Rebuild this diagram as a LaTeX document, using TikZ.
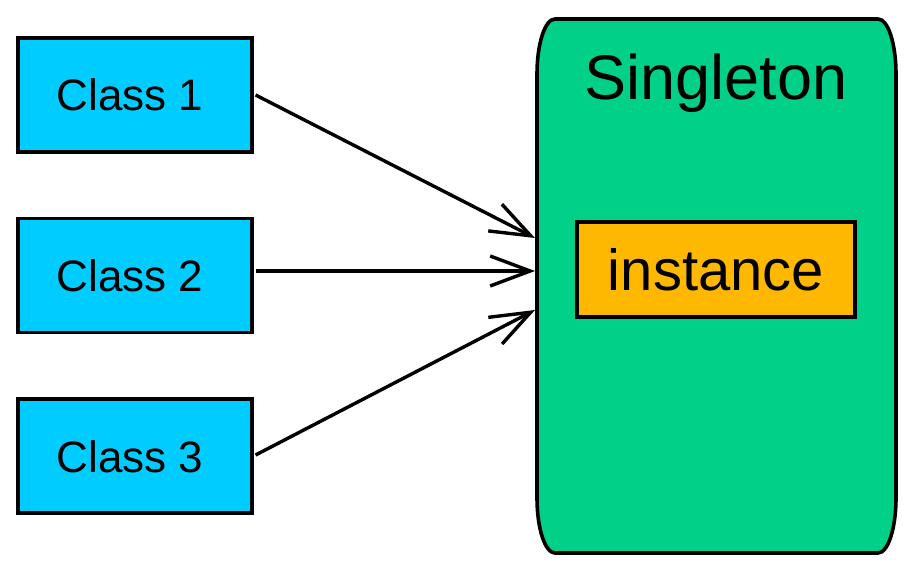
\documentclass[tikz,border=0pt]{standalone}
\usepackage{fontspec}
\setmainfont{Liberation Sans}
\usetikzlibrary{arrows.meta}
\definecolor{classblue}{RGB}{0,204,255}
\definecolor{singgreen}{RGB}{0,208,136}
\definecolor{instorange}{RGB}{255,184,0}
\tikzset{
  classbox/.style={draw=black, line width=3.6pt, fill=classblue, minimum width=234pt, minimum height=114pt, inner sep=0pt, font=\fontsize{44}{50}\selectfont},
  instbox/.style={draw=black, line width=3.6pt, fill=instorange, minimum width=278pt, minimum height=95pt, inner sep=0pt, font=\fontsize{58}{66}\selectfont},
  conn/.style={line width=3.4pt, -{Straight Barb[length=40pt,width=30pt,line width=3.4pt]}},
}
\begin{document}
\begin{tikzpicture}[x=1pt,y=-1pt]
\useasboundingbox (0,0) rectangle (916,567);
% singleton body
\filldraw[fill=singgreen, draw=black, line width=3.6pt]
  (537,74) -- (537,498) .. controls (537,528.4) and (545,553) .. (555,553)
  -- (878,553) .. controls (888,553) and (896,528.4) .. (896,498)
  -- (896,74) .. controls (896,43.6) and (888,19) .. (878,19)
  -- (555,19) .. controls (545,19) and (537,43.6) .. (537,74) -- cycle;
\node[minimum width=359pt, minimum height=534pt, inner sep=0pt] (sing) at (716.5,286) {};
\node[font=\fontsize{63}{70}\selectfont, anchor=base] (singlabel) at (716,100) {Singleton};
\node[instbox] (inst) at (716,269.5) {instance};
\node[classbox, text depth=0pt, text height=32pt, align=center] (c1) at (135,95) {\hspace*{-10pt}Class 1};
\node[classbox, text depth=0pt, text height=32pt, align=center] (c2) at (135,275.5) {\hspace*{-10pt}Class 2};
\node[classbox, text depth=0pt, text height=32pt, align=center] (c3) at (135,456) {\hspace*{-10pt}Class 3};
\coordinate (t1) at (535,238);
\coordinate (t2) at (535,271);
\coordinate (t3) at (535,310);
\draw[conn] ([xshift=1.8pt]c1.east) -- (t1);
\draw[conn] ([xshift=1.8pt,yshift=4.5pt]c2.east) -- (t2);
\draw[conn] ([xshift=1.8pt,yshift=1pt]c3.east) -- (t3);
\end{tikzpicture}
\end{document}
